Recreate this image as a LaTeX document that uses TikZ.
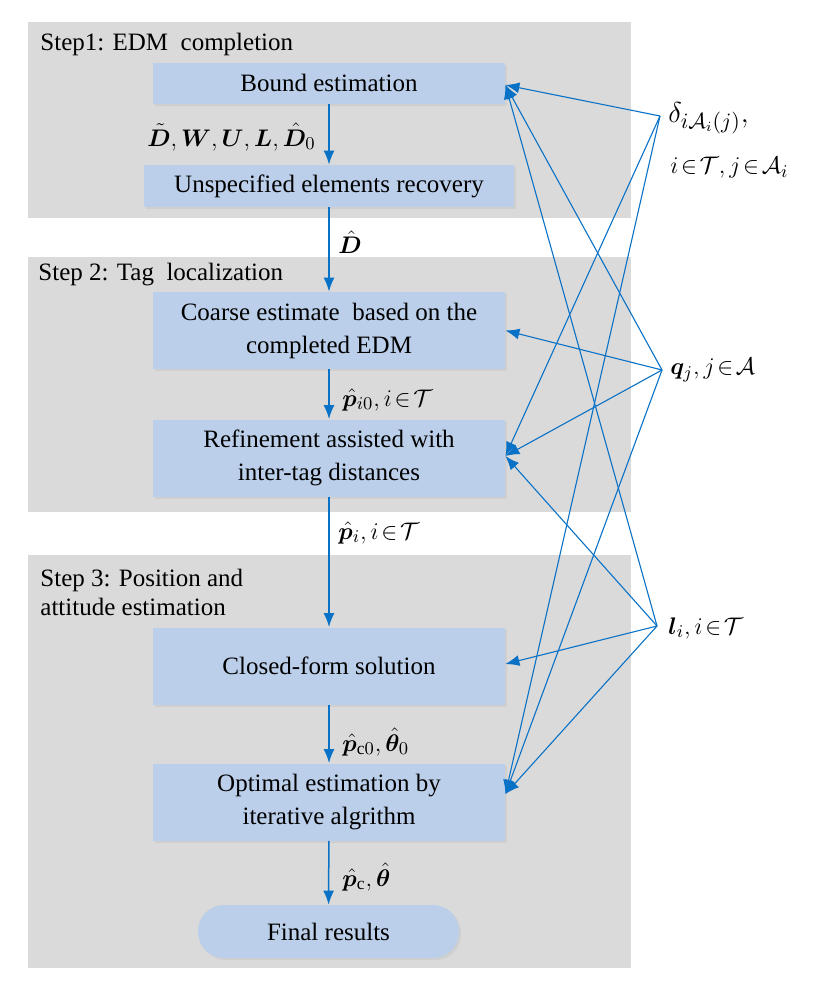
\documentclass[tikz,border=0pt]{standalone}
\usepackage{amsmath,amssymb,bm}
\usepackage{fontspec}
\setmainfont{Liberation Serif}
\newfontfamily\figfont{Liberation Serif}
\usepackage{tikz}
\usetikzlibrary{arrows.meta,positioning,shadows}
\definecolor{PanelGray}{HTML}{DADADA}
\definecolor{BoxBlue}{HTML}{BBCFEA}
\definecolor{LinkBlue}{HTML}{0A72C6}
\newcommand{\tightrel}{\thickmuskip=2mu\relax}

\begin{document}
\begin{tikzpicture}[x=0.5pt,y=-0.5pt,
    font=\figfont\fontsize{12.5}{16.5}\selectfont\tightrel,
    stepbox/.style={fill=BoxBlue, minimum width=176pt, minimum height=38.5pt,
      align=center, inner sep=0pt,
      drop shadow={opacity=0.12, shadow xshift=1pt, shadow yshift=-1pt}},
    flow/.style={LinkBlue, line width=0.75pt, -{Latex[length=7pt,width=5.5pt]}},
    link/.style={LinkBlue, line width=0.55pt, -{Latex[length=7pt,width=5.5pt]}},
    steptitle/.style={anchor=west, align=left, inner sep=0pt},
    flowlabel/.style={inner sep=0pt},
    varlabel/.style={anchor=west, inner sep=0pt,
      font=\figfont\fontsize{13}{16}\selectfont\tightrel}]
  \useasboundingbox (0,0) rectangle (822,1001);

  % the three step panels
  \fill[PanelGray] (28,22) rectangle (631,218);
  \fill[PanelGray] (28,257) rectangle (631,512);
  \fill[PanelGray] (28,555) rectangle (631,968);
  \node[steptitle] (title1) at (40,44) {Step1: EDM\ \ completion};
  \node[steptitle] (title2) at (38,275) {Step 2: Tag\ \ localization};
  \node[steptitle, font=\figfont\fontsize{12.5}{14.5}\selectfont] (title3) at (40,592)
    {Step 3: Position and\\attitude estimation};

  % processing blocks
  \node[stepbox, minimum height=20.5pt] (bound) at (329,83) {Bound estimation};
  \node[stepbox, minimum width=185pt, minimum height=21pt] (unspec) at (329,186)
    {Unspecified elements recovery};
  \node[stepbox] (coarse) at (329,330.5) {Coarse estimate\ \ based on the\\completed EDM};
  \node[stepbox] (refine) at (329,458) {Refinement assisted with\\inter-tag distances};
  \node[stepbox] (closed) at (329,666) {Closed-form solution};
  \node[stepbox] (optim) at (329,802) {Optimal estimation by\\iterative algrithm};
  \node[stepbox, minimum width=130.5pt, minimum height=26.5pt, rounded corners=13pt]
    (final) at (328.5,931.5) {Final results};

  % main flow
  \draw[flow] (bound) -- (unspec);
  \draw[flow] (unspec) -- (coarse);
  \draw[flow] (coarse) -- (refine);
  \draw[flow] (refine) -- (closed);
  \draw[flow] (closed) -- (optim);
  \draw[flow] (optim) -- (final);

  % quantities passed along
  \node[flowlabel, anchor=east] (lblD) at (316,137)
    {$\tilde{\bm{D}}, \bm{W}, \bm{U}, \bm{L}, \hat{\bm{D}}_0$};
  \node[flowlabel, anchor=west] (lblDhat) at (338,242) {$\hat{\bm{D}}$};
  \node[flowlabel, anchor=west] (lblpi0) at (342,400) {$\hat{\bm{p}}_{i0}, i\in\mathcal{T}$};
  \node[flowlabel, anchor=west] (lblpi) at (338,533) {$\hat{\bm{p}}_{i}, i\in\mathcal{T}$};
  \node[flowlabel, anchor=west] (lblpc0) at (342,742)
    {$\hat{\bm{p}}_{\mathrm{c}0}, \hat{\bm{\theta}}_0$};
  \node[flowlabel, anchor=west] (lblpc) at (342,877)
    {$\hat{\bm{p}}_{\mathrm{c}}, \hat{\bm{\theta}}$};

  % side inputs
  \coordinate (delta) at (660,116);
  \coordinate (qpt) at (662,370);
  \coordinate (lpt) at (657,626);
  \node[varlabel, font=\figfont\fontsize{15}{18}\selectfont] (deltalbl) at (668,118)
    {$\delta_{i\mathcal{A}_i(j)},$};
  \node[varlabel] (deltaset) at (670,168) {$i\in\mathcal{T}, j\in\mathcal{A}_i$};
  \node[varlabel] (qlbl) at (670,370) {$\bm{q}_j, j\in\mathcal{A}$};
  \node[varlabel] (llbl) at (668,628) {$\bm{l}_i, i\in\mathcal{T}$};

  \foreach \src in {delta,qpt,lpt} {
    \draw[link] (\src) -- ([yshift=-1pt]bound.east);
    \draw[link] (\src) -- ([yshift=1pt]refine.east);
    \draw[link] (\src) -- ([yshift=4pt]optim.east);
  }
  \draw[link] (qpt) -- (coarse.east);
  \draw[link] (lpt) -- ([yshift=1pt]closed.east);
\end{tikzpicture}
\end{document}
